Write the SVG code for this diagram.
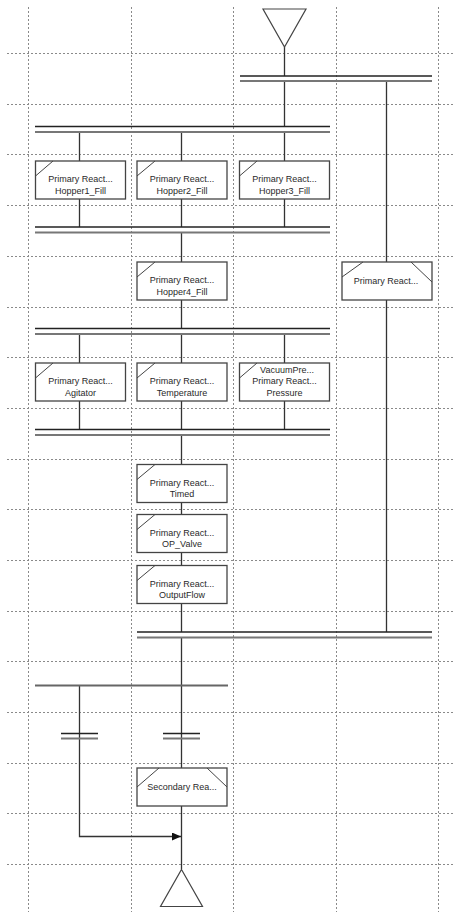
<svg xmlns="http://www.w3.org/2000/svg" width="454" height="912" viewBox="0 0 454 912">
<style>
.grid{stroke:#8a8a8a;stroke-width:1;stroke-dasharray:2,2;fill:none}
.w{stroke:#333;stroke-width:1.3;fill:none}
.b1{stroke:#222;stroke-width:1.3}
.b2{stroke:#777;stroke-width:2.2}
.sel{stroke:#666;stroke-width:2}
.node{fill:#fff;stroke:#444;stroke-width:1.3}
.diag{stroke:#444;stroke-width:1;fill:none}
.t{font-family:"Liberation Sans",Arial,sans-serif;font-size:9px;fill:#2a2a2a;text-anchor:middle}
.term{fill:#fff;stroke:#444;stroke-width:1.2}
</style>
<defs>
<marker id="ah" markerWidth="10" markerHeight="8" refX="9" refY="4" orient="auto" markerUnits="userSpaceOnUse">
<path d="M0,0 L9,4 L0,8 Z" fill="#111"/>
</marker>
</defs>
<g id="grid">
<path class="grid" d="M28.5,7V912M131.5,7V912M233.5,7V912M336.5,7V912M438.5,7V912"/>
<path class="grid" d="M7,53.5H454M7,104.5H454M7,154.5H454M7,205.5H454M7,256.5H454M7,307.5H454M7,357.5H454M7,408.5H454M7,459.5H454M7,509.5H454M7,560.5H454M7,611.5H454M7,661.5H454M7,712.5H454M7,763.5H454M7,813.5H454M7,864.5H454"/>
</g>
<g id="connectors">
<path class="w" d="M284.5,47V76M284.5,81V126M284.5,132V161M284.5,199V227"/>
<path class="w" d="M386.5,81V262M386.5,300V632"/>
<path class="w" d="M79.5,132V161M79.5,199V227M181.5,132V161M181.5,199V227"/>
<path class="w" d="M181.5,232V262M181.5,300V328"/>
<path class="w" d="M79.5,334V363M79.5,401V429M181.5,334V363M181.5,401V429M284.5,334V363M284.5,401V429"/>
<path class="w" d="M181.5,435V464M181.5,502V514M181.5,552V566M181.5,603V632M181.5,637V768M181.5,806V869"/>
<path class="w" d="M79.5,685V836.5H181" marker-end="url(#ah)"/>
<g id="bars">
<line class="b1" x1="240" y1="76" x2="432" y2="76"/><line class="b2" x1="240" y1="81" x2="432" y2="81"/>
<line class="b1" x1="35" y1="126.5" x2="330" y2="126.5"/><line class="b2" x1="35" y1="132" x2="330" y2="132"/>
<line class="b1" x1="35" y1="227" x2="330" y2="227"/><line class="b2" x1="35" y1="232.5" x2="330" y2="232.5"/>
<line class="b1" x1="35" y1="328.5" x2="330" y2="328.5"/><line class="b2" x1="35" y1="334" x2="330" y2="334"/>
<line class="b1" x1="35" y1="429.5" x2="330" y2="429.5"/><line class="b2" x1="35" y1="435" x2="330" y2="435"/>
<line class="b1" x1="137" y1="632" x2="432" y2="632"/><line class="b2" x1="137" y1="637.5" x2="432" y2="637.5"/>
<line class="sel" x1="35" y1="685.5" x2="228" y2="685.5"/>
<line class="b1" x1="61" y1="733.5" x2="98" y2="733.5"/><line class="b2" x1="61" y1="738.5" x2="98" y2="738.5"/>
<line class="b1" x1="163" y1="733.5" x2="200" y2="733.5"/><line class="b2" x1="163" y1="738.5" x2="200" y2="738.5"/>
</g>
</g>
<g id="start"><path class="term" d="M263,9H306L284.5,47Z"/></g>
<g id="n1"><rect class="node" x="35.5" y="161" width="90" height="38"/><path class="diag" d="M35.5,176L53,161"/><text class="t" x="80.5" y="182">Primary React...</text><text class="t" x="80.5" y="194">Hopper1_Fill</text></g>
<g id="n2"><rect class="node" x="137" y="161" width="90" height="38"/><path class="diag" d="M137,176L155,161"/><text class="t" x="182" y="182">Primary React...</text><text class="t" x="182" y="194">Hopper2_Fill</text></g>
<g id="n3"><rect class="node" x="239.5" y="161" width="90" height="38"/><path class="diag" d="M239.5,176L257,161"/><text class="t" x="284.5" y="182">Primary React...</text><text class="t" x="284.5" y="194">Hopper3_Fill</text></g>
<g id="n4"><rect class="node" x="137" y="262" width="90" height="38"/><path class="diag" d="M137,277L155,262"/><text class="t" x="182" y="283">Primary React...</text><text class="t" x="182" y="295">Hopper4_Fill</text></g>
<g id="n5"><rect class="node" x="342" y="262" width="90" height="38"/><path class="diag" d="M342,277L363,262M411,262L432,282"/><text class="t" x="386" y="284">Primary React...</text></g>
<g id="n6"><rect class="node" x="35.5" y="363" width="90" height="38"/><path class="diag" d="M35.5,378L53,363"/><text class="t" x="80.5" y="384">Primary React...</text><text class="t" x="80.5" y="396">Agitator</text></g>
<g id="n7"><rect class="node" x="137" y="363" width="90" height="38"/><path class="diag" d="M137,378L155,363"/><text class="t" x="182" y="384">Primary React...</text><text class="t" x="182" y="396">Temperature</text></g>
<g id="n8"><rect class="node" x="239.5" y="363" width="90" height="38"/><path class="diag" d="M239.5,378L257,363"/><text class="t" x="287" y="373">VacuumPre...</text><text class="t" x="284.5" y="384">Primary React...</text><text class="t" x="284.5" y="396">Pressure</text></g>
<g id="n9"><rect class="node" x="137" y="464.5" width="90" height="38"/><path class="diag" d="M137,479.5L155,464.5"/><text class="t" x="182" y="486">Primary React...</text><text class="t" x="182" y="497">Timed</text></g>
<g id="n10"><rect class="node" x="137" y="514.5" width="90" height="38"/><path class="diag" d="M137,529.5L155,514.5"/><text class="t" x="182" y="536">Primary React...</text><text class="t" x="182" y="547">OP_Valve</text></g>
<g id="n11"><rect class="node" x="137" y="565.5" width="90" height="38"/><path class="diag" d="M137,580.5L155,565.5"/><text class="t" x="182" y="587">Primary React...</text><text class="t" x="182" y="598">OutputFlow</text></g>
<g id="n12"><rect class="node" x="137" y="768" width="90" height="38"/><path class="diag" d="M137,787L159,768M207,768L227,787"/><text class="t" x="182" y="790">Secondary  Rea...</text></g>
<g id="end"><path class="term" d="M181.5,869.5L202.5,906.5H160.5Z"/></g>
</svg>
